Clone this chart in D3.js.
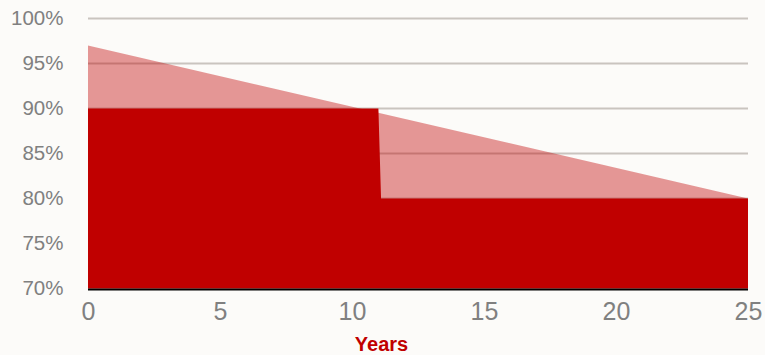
<!DOCTYPE html>
<html><head><meta charset="utf-8">
<script src="https://cdn.jsdelivr.net/npm/d3@7"></script>
<style>
html,body{margin:0;padding:0;background:#fcfbf9;}
svg{display:block;}
</style></head>
<body>
<svg id="chart" width="765" height="355"></svg>
<script>
// Data
const yTicks = [70, 75, 80, 85, 90, 95, 100];
const xTicks = [0, 5, 10, 15, 20, 25];
const linearYears = [0, 25];
const linearValues = [97, 80];
const stepYears = [0, 11, 11.1, 25];
const stepValues = [90, 90, 80, 80];
const xLabel = "Years";

const svg = d3.select("#chart");
const W = 765, H = 355;
svg.append("rect").attr("width", W).attr("height", H).attr("fill", "#fcfbf9");

const x = d3.scaleLinear().domain([0, 25]).range([88, 748]);
const y = d3.scaleLinear().domain([70, 100]).range([288.5, 18.5]);

// gridlines
svg.append("g").selectAll("line").data(yTicks.filter(d => d > 70)).join("line")
  .attr("x1", x(0)).attr("x2", x(25))
  .attr("y1", d => y(d)).attr("y2", d => y(d))
  .attr("stroke", "#c9c4bf").attr("stroke-width", 2);

const area = d3.area().x(d => x(d[0])).y0(y(70)).y1(d => y(d[1]));

// dark step area (opaque)
const stepData = stepYears.map((t, i) => [t, stepValues[i]]);
svg.append("path").datum(stepData).attr("d", area).attr("fill", "#c00000");

// light linear area (semi-transparent)
const linData = linearYears.map((t, i) => [t, linearValues[i]]);
svg.append("path").datum(linData).attr("d", area).attr("fill", "#c00000").attr("fill-opacity", 0.4);

// baseline
svg.append("line").attr("x1", x(0)).attr("x2", x(25))
  .attr("y1", y(70) + 1).attr("y2", y(70) + 1)
  .attr("stroke", "#000").attr("stroke-width", 2);

// y axis labels
const yAxis = d3.axisLeft(y).tickValues(yTicks).tickFormat(d => d + "%").tickSize(0).tickPadding(0);
const gy = svg.append("g").attr("transform", "translate(63.5,-0.8)").call(yAxis);
gy.select(".domain").remove();
gy.selectAll("text").attr("font-family", "Liberation Sans, Arial, sans-serif")
  .attr("font-size", 20.5).attr("fill", "#808080").attr("dy", "0.35em");

// x axis labels
const xAxis = d3.axisBottom(x).tickValues(xTicks).tickFormat(d3.format("d")).tickSize(0).tickPadding(0);
const gx = svg.append("g").attr("transform", "translate(0,302.5)").call(xAxis);
gx.select(".domain").remove();
gx.selectAll("text").attr("font-family", "Liberation Sans, Arial, sans-serif")
  .attr("font-size", 25).attr("fill", "#808080").attr("dy", "0.71em");

// x label
svg.append("text").attr("x", 381.5).attr("y", 351).attr("text-anchor", "middle")
  .attr("font-family", "Liberation Sans, Arial, sans-serif").attr("font-size", 20)
  .attr("font-weight", "bold").attr("fill", "#c00000").text(xLabel);
</script>
</body></html>
